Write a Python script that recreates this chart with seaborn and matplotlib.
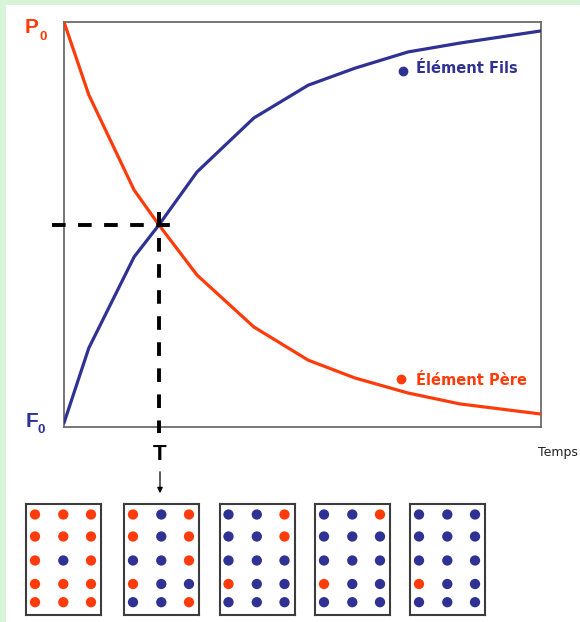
import matplotlib
matplotlib.use("Agg")
import matplotlib.pyplot as plt
import seaborn as sns
import pandas as pd
from matplotlib.patches import Rectangle

# ---------------- data ----------------
temps = [0.0, 0.52, 1.47, 1.99, 2.79, 3.98, 5.12, 6.10, 7.21, 8.30, 10.0]
pere = [100.0, 82.0, 58.5, 49.9, 37.5, 24.7, 16.5, 12.1, 8.4, 5.7, 3.2]
fils = [1.0, 19.5, 42.0, 49.9, 63.0, 76.3, 84.4, 88.6, 92.6, 94.8, 97.8]
series_names = ["Élément Père", "Élément Fils"]
half_index = 3  # point where both curves cross (T)

# composition of the five sample boxes, rows top->bottom (P = père, F = fils)
boxes = [
    ["PPP", "PPP", "PFP", "PPP", "PPP"],
    ["PFP", "PFP", "FFP", "PFF", "FFP"],
    ["FFP", "FFP", "FFF", "PFF", "FFF"],
    ["FFP", "FFF", "FFF", "PFF", "FFF"],
    ["FFF", "FFF", "FFF", "PFF", "FFF"],
]

# ---------------- style ----------------
RED = "#ff3b0a"
BLUE = "#2f3193"
W, H = 580, 622
sns.set_style("white")
plt.rcParams["font.family"] = ["DejaVu Sans"]

fig = plt.figure(figsize=(W / 100, H / 100), dpi=100)
fig.patch.set_facecolor("#d8f4d8")
fig.add_artist(Rectangle((6 / W, 0), 1 - 6 / W, 1 - 5 / H, transform=fig.transFigure,
                         facecolor="white", edgecolor="none", zorder=0))

def fx(px):
    return px / W

def fy(py):
    return 1 - py / H

# main axes
ax = fig.add_axes([fx(64), fy(427), (541 - 64) / W, (427 - 22) / H])
ax.set_facecolor("white")
df = pd.DataFrame({
    "t": temps * 2,
    "v": pere + fils,
    "elem": [series_names[0]] * len(temps) + [series_names[1]] * len(temps),
})
sns.lineplot(data=df, x="t", y="v", hue="elem", palette={series_names[0]: RED, series_names[1]: BLUE},
             estimator=None, linewidth=2.3, legend=False, ax=ax, zorder=3)
ax.set_xlim(0, 10)
ax.set_ylim(0, 100)
ax.set_xticks([])
ax.set_yticks([])
ax.set_xlabel("")
ax.set_ylabel("")
for s in ax.spines.values():
    s.set_visible(True)
    s.set_color("#6b6b6b")
    s.set_linewidth(1.3)

# dashed half-life lines
th, vh = temps[half_index], pere[half_index]
ax.plot([-0.25, th + 0.27], [vh, vh], color="black", lw=2.8, dashes=(3.5, 3.2), clip_on=False, zorder=4)
ax.plot([th, th], [vh + 3.3, -1.5], color="black", lw=2.8, dashes=(3.5, 3.2), clip_on=False, zorder=4)

# labels of the curves
ax.plot([0.711], [0.879], "o", color=BLUE, ms=6, transform=ax.transAxes, clip_on=False)
ax.text(0.738, 0.873, series_names[1], color=BLUE, fontsize=10.5, fontweight="bold",
        transform=ax.transAxes, va="baseline", ha="left")
ax.plot([0.706], [0.118], "o", color=RED, ms=6, transform=ax.transAxes, clip_on=False)
ax.text(0.738, 0.104, series_names[0], color=RED, fontsize=10.5, fontweight="bold",
        transform=ax.transAxes, va="baseline", ha="left")

# P0 / F0 / T / Temps
fig.text(fx(25), fy(33.3), "P", color=RED, fontsize=15, fontweight="bold", family="Liberation Sans")
fig.text(fx(39), fy(40), "0", color=RED, fontsize=9.5, fontweight="bold", family="Liberation Sans")
fig.text(fx(26), fy(426.7), "F", color=BLUE, fontsize=15, fontweight="bold", family="Liberation Sans")
fig.text(fx(38), fy(433.3), "0", color=BLUE, fontsize=9.5, fontweight="bold", family="Liberation Sans")
fig.text(fx(160), fy(460), "T", color="black", fontsize=16, fontweight="bold",
         family="Liberation Sans", ha="center")
fig.text(fx(538), fy(456), "Temps", color="#222222", fontsize=9)
ax.annotate("", xy=(fx(160), fy(496)), xytext=(fx(160), fy(469)), xycoords="figure fraction",
            textcoords="figure fraction",
            arrowprops=dict(arrowstyle="-|>", lw=0.9, color="black", mutation_scale=8))

# sample boxes
box_left = [26, 124, 219.5, 315, 410]
box_top = 503.5
box_w, box_h = 75, 111
col_pos = [9, 37.3, 65]
row_pos = [11, 33, 57, 80.5, 98.7]
for bi, grid in enumerate(boxes):
    bax = fig.add_axes([fx(box_left[bi]), fy(box_top + box_h), box_w / W, box_h / H])
    bax.set_facecolor("white")
    recs = []
    for ri, row in enumerate(grid):
        for ci, c in enumerate(row):
            recs.append({"x": col_pos[ci], "y": row_pos[ri], "e": c})
    bdf = pd.DataFrame(recs)
    sns.scatterplot(data=bdf, x="x", y="y", hue="e", palette={"P": RED, "F": BLUE}, s=55,
                    edgecolor="none", legend=False, ax=bax)
    bax.set_xlim(0, box_w)
    bax.set_ylim(box_h, 0)
    bax.set_xticks([])
    bax.set_yticks([])
    bax.set_xlabel("")
    bax.set_ylabel("")
    for s in bax.spines.values():
        s.set_visible(True)
        s.set_color("#3c3c3c")
        s.set_linewidth(1.5)

fig.savefig("out.png", dpi=100, facecolor=fig.get_facecolor())
